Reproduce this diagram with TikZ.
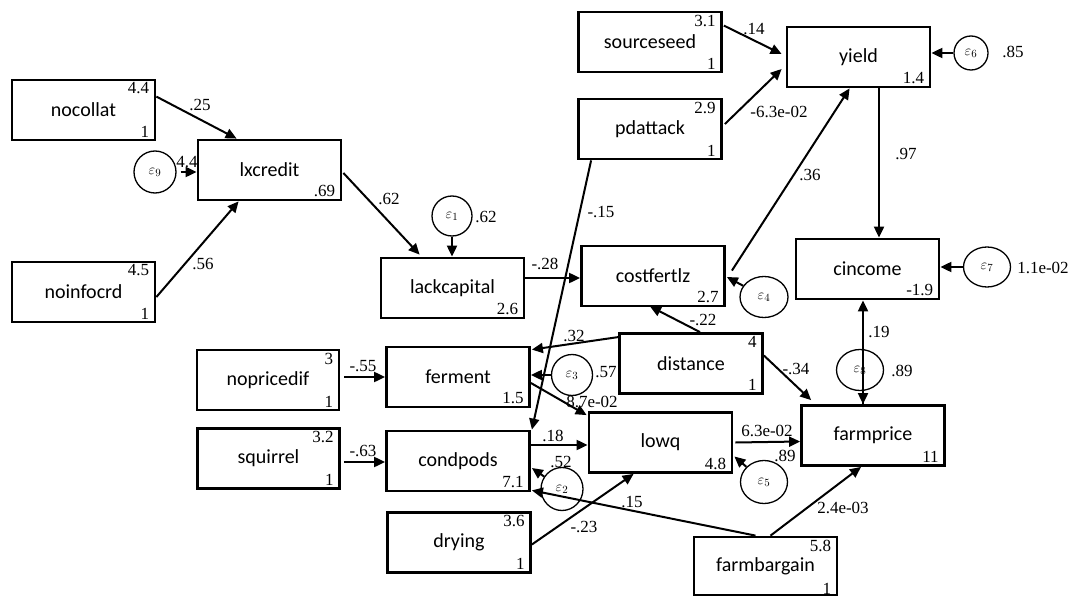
\documentclass[tikz,border=0pt]{standalone}
\usepackage{fontspec}
\setmainfont{Liberation Serif}
\newfontfamily\carlito{Carlito}
\usetikzlibrary{shapes.geometric,arrows.meta}

\tikzset{
  var/.style={draw, line width=2.8pt, minimum width=143pt, minimum height=60pt,
    inner sep=0pt, font=\carlito\fontsize{20}{20}\selectfont},
  num/.style={inner sep=1pt, font=\fontsize{17}{17}\selectfont},
  err/.style={draw, ellipse, line width=1.3pt, inner sep=0pt,
    font=\fontsize{15}{15}\selectfont},
  path/.style={line width=2pt, -{Triangle[length=11pt,width=10pt]}},
}

% observed variable with intercept (top) and variance 1 (bottom)
\newcommand\exovar[4]{%
  \node[var] (#1) at (#2) {#3};
  \node[num, anchor=north east] (#1-m) at ([shift={(-6,3)}]#1.north east) {#4};
  \node[num, anchor=south east] (#1-v) at ([shift={(-6,-3)}]#1.south east) {1};}
% dependent variable with intercept in the lower corner
\newcommand\depvar[4]{%
  \node[var] (#1) at (#2) {#3};
  \node[num, anchor=south east] (#1-c) at ([shift={(-6,-3)}]#1.south east) {#4};}

\begin{document}
\begin{tikzpicture}[x=1pt, y=-1pt]
\useasboundingbox (0,0) rectangle (1068,596);

% ---- variables ----
\exovar{nocollat}{83.5,110}{nocollat}{4.4}
\depvar{lxcredit}{269.5,170}{lxcredit}{.69}
\exovar{noinfocrd}{83.5,292}{noinfocrd}{4.5}
\exovar{sourceseed}{650,42}{sourceseed}{3.1}
\exovar{pdattack}{650,129}{pdattack}{2.9}
\depvar{yield}{858.5,57}{yield}{1.4}
\depvar{cincome}{867.5,269}{cincome}{-1.9}
\depvar{costfertlz}{653,276}{costfertlz}{2.7}
\depvar{lackcapital}{452.5,288}{lackcapital}{2.6}
\exovar{distance}{691,363.5}{distance}{4}
\depvar{ferment}{458,377}{ferment}{1.5}
\node[var, minimum width=142pt] (nopricedif) at (268,380) {nopricedif};
\node[num, anchor=north east] (nopricedif-m) at ([shift={(-6,3)}]nopricedif.north east) {3};
\node[num, anchor=south east] (nopricedif-v) at ([shift={(-6,-3)}]nopricedif.south east) {1};
\node[var, minimum width=142pt] (squirrel) at (268.5,458.5) {squirrel};
\node[num, anchor=north east] (squirrel-m) at ([shift={(-6,3)}]squirrel.north east) {3.2};
\node[num, anchor=south east] (squirrel-v) at ([shift={(-6,-3)}]squirrel.south east) {1};
\depvar{condpods}{458,461}{condpods}{7.1}
\exovar{drying}{459,542.5}{drying}{3.6}
\depvar{lowq}{660.5,442.5}{lowq}{4.8}
\depvar{farmprice}{873,435.5}{farmprice}{11}
\node[var, minimum height=58pt] (farmbargain) at (765.5,566) {farmbargain};
\node[num, anchor=north east] (farmbargain-m) at ([shift={(-6,3)}]farmbargain.north east) {5.8};
\node[num, anchor=south east] (farmbargain-v) at ([shift={(-6,-1)}]farmbargain.south east) {1};

% ---- error terms ----
\node[err, minimum width=42pt, minimum height=42pt] (e9) at (155,172) {$\varepsilon_{9}$};
\node[err, minimum width=40pt, minimum height=40pt] (e1) at (452,216) {$\varepsilon_{1}$};
\node[err, minimum width=34pt, minimum height=34pt] (e6) at (971,53) {$\varepsilon_{6}$};
\node[err, minimum width=47pt, minimum height=40pt] (e7) at (987,267) {$\varepsilon_{7}$};
\node[err, minimum width=48pt, minimum height=41pt] (e4) at (764,297) {$\varepsilon_{4}$};
\node[err, minimum width=41pt, minimum height=41pt] (e3) at (572,375) {$\varepsilon_{3}$};
\node[err, minimum width=42pt, minimum height=43pt] (e2) at (562,489) {$\varepsilon_{2}$};
\node[err, minimum width=47pt, minimum height=43pt] (e5) at (764,482) {$\varepsilon_{5}$};
\node[err, minimum width=47pt, minimum height=41pt] (e8) at (860,370) {$\varepsilon_{8}$};

% ---- structural paths ----
\draw[path] ([shift={(0,18)}]nocollat.north east) -- ([shift={(40,0)}]lxcredit.north west);
\draw[path] ([shift={(0,5)}]noinfocrd.east) -- ([shift={(42,0)}]lxcredit.south west);
\draw[path] ([xshift=4pt]e9.east) -- (lxcredit.west |- e9.east);
\draw[path] ([shift={(1,3)}]lxcredit.east) -- ([shift={(40,-2)}]lackcapital.north west);
\draw[path] (e1.south) -- (e1.south |- lackcapital.north);
\draw[path] ([shift={(0,-10)}]lackcapital.east) -- ([shift={(0,2)}]costfertlz.west);
\draw[path] ([shift={(14,0)}]pdattack.south west) -- ([shift={(1,0)}]condpods.north east);
\draw[path] ([shift={(1,15)}]sourceseed.north east) -- ([shift={(-4,-3)}]yield.west);
\draw[path] ([shift={(2,-5)}]pdattack.east) -- ([shift={(-4,12)}]yield.west);
\draw[path] ([shift={(6,26)}]costfertlz.north east) -- ([shift={(64,0)}]yield.south west);
\draw[path] ([xshift=20.5pt]yield.south) -- ([xshift=11.5pt]cincome.north);
\draw[path] (e6.west) -- (yield.east |- e6.west);
\draw[path] (e7.west) -- (cincome.east |- e7.west);
\draw[path] (e4) -- ([shift={(1,1)}]costfertlz.east);
\draw[path] ([shift={(9,0)}]distance.north) -- ([shift={(-3,-1)}]costfertlz.south);
\draw[path] ([shift={(0,5)}]distance.north west) -- ([shift={(1,4)}]ferment.north east);
\draw[path] (e3.west) -- (ferment.east |- e3.west);
\draw[path] ([shift={(0,6)}]ferment.east) -- ([shift={(-1,4)}]lowq.north west);
\draw[path] ([shift={(4,-3)}]nopricedif.east) -- ([shift={(0,0)}]ferment.west);
\draw[path] ([shift={(3,3.5)}]squirrel.east) -- ([shift={(0,1)}]condpods.west);
\draw[path] ([shift={(0,-16)}]condpods.east) -- ([shift={(0,2.5)}]lowq.west);
\draw[path] (e2) -- ([shift={(1,7)}]condpods.east);
\draw[path] ([shift={(0,2)}]drying.east) -- ([shift={(46,0)}]lowq.south west);
\draw[path] ([shift={(-10,0)}]farmbargain.north) -- ([shift={(1,-2)}]condpods.south east);
\draw[path] ([shift={(5,0)}]farmbargain.north) -- ([shift={(-12,0)}]farmprice.south);
\draw[path] ([shift={(0,-8)}]distance.east) -- ([shift={(11,-4)}]farmprice.north west);
\draw[path] ([shift={(2,0)}]lowq.east) -- ([shift={(0,6)}]farmprice.west);
\draw[path] (e5) -- ([shift={(1,14)}]lowq.east);
\draw[path] ([xshift=-10pt]farmprice.north) -- ([xshift=-4.5pt]cincome.south);
\draw[path] ([xshift=-10pt]farmprice.north |- e8.south) -- ([xshift=-10pt]farmprice.north);

% ---- coefficients ----
\node[num] (c1) at (200,105) {.25};
\node[num] (c2) at (203,264) {.56};
\node[num] (c3) at (187,162) {4.4};
\node[num] (c4) at (389,199) {.62};
\node[num] (c5) at (486,217) {.62};
\node[num] (c6) at (545,264) {-.28};
\node[num] (c7) at (601,212) {-.15};
\node[num] (c8) at (754,29) {.14};
\node[num] (c9) at (779,112) {-6.3e-02};
\node[num] (c10) at (810,175) {.36};
\node[num] (c11) at (906,154) {.97};
\node[num] (c12) at (1013,52) {.85};
\node[num] (c13) at (1043,268) {1.1e-02};
\node[num] (c14) at (703,320) {-.22};
\node[num] (c15) at (574,336) {.32};
\node[num] (c16) at (606,372) {.57};
\node[num] (c17) at (592,402) {8.7e-02};
\node[num] (c18) at (553,436) {.18};
\node[num] (c19) at (561,462) {.52};
\node[num] (c20) at (584,527) {-.23};
\node[num] (c21) at (632,502) {.15};
\node[num] (c22) at (843,508) {2.4e-03};
\node[num] (c23) at (796,369) {-.34};
\node[num] (c24) at (767,431) {6.3e-02};
\node[num] (c25) at (785,456) {.89};
\node[num] (c26) at (879,332) {.19};
\node[num] (c27) at (902,371) {.89};
\node[num] (c28) at (363,366) {-.55};
\node[num] (c29) at (363,451) {-.63};
\end{tikzpicture}
\end{document}
